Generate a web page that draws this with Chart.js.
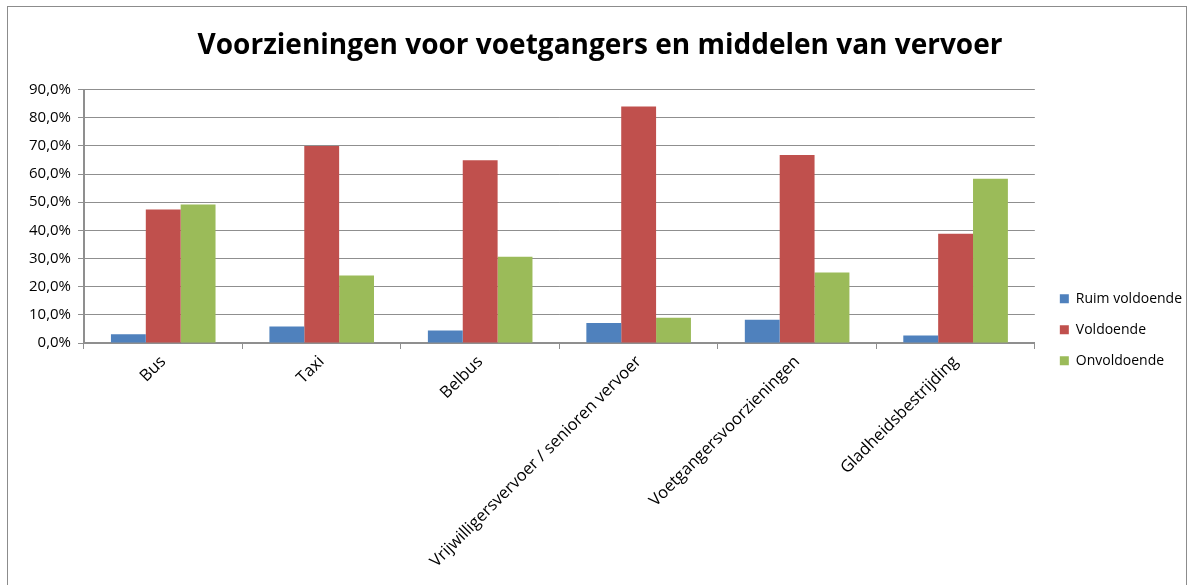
<!DOCTYPE html>
<html>
<head>
<meta charset="utf-8">
<script src="https://cdn.jsdelivr.net/npm/chart.js"></script>
<style>
  body { margin: 0; background: #fff; }
  #wrap {
    position: absolute; left: 7px; top: 6px;
    width: 1178px; height: 579px;
    border: 1px solid #8c8c8c; border-bottom: none;
  }
</style>
</head>
<body>
<div id="wrap"><canvas id="myChart" width="1178" height="579"></canvas></div>
<script>
let categories = ['Bus', 'Taxi', 'Belbus', 'Vrijwilligersvervoer / senioren vervoer', 'Voetgangersvoorzieningen', 'Gladheidsbestrijding'];
let ruimVoldoende = [3.1, 5.9, 4.4, 7.1, 8.3, 2.7];
let voldoende = [47.4, 70.0, 64.9, 84.0, 66.8, 38.8];
let onvoldoende = [49.2, 24.0, 30.6, 9.0, 25.0, 58.3];
let seriesNames = ['Ruim voldoende', 'Voldoende', 'Onvoldoende'];
let colorHex = ['#4F81BD', '#C0504D', '#9BBB59'];

let font = "'Open Sans', 'Liberation Sans', sans-serif";
let gridColor = '#8f8f8f';

let ctx = document.getElementById('myChart').getContext('2d');
let myChart = new Chart(ctx, {
    type: 'bar',
    data: {
        labels: categories,
        datasets: [ruimVoldoende, voldoende, onvoldoende].map((d, i) => ({
            label: seriesNames[i],
            data: d,
            backgroundColor: colorHex[i],
            categoryPercentage: 0.66,
            barPercentage: 1
        }))
    },
    options: {
        responsive: false,
        animation: false,
        layout: { padding: { left: 0, right: -6, top: 0, bottom: 0 } },
        plugins: {
            title: {
                display: true,
                text: 'Voorzieningen voor voetgangers en middelen van vervoer',
                color: '#000',
                font: { family: font, size: 28, weight: 'bold' },
                padding: { top: 22, bottom: 27 }
            },
            legend: {
                position: 'right',
                title: {
                    display: true,
                    text: ' ',
                    font: { size: 12 },
                    padding: 26
                },
                labels: {
                    color: '#000',
                    boxWidth: 9,
                    boxHeight: 9,
                    padding: 17,
                    font: { family: font, size: 14 }
                }
            },
            tooltip: { enabled: false }
        },
        scales: {
            x: {
                grid: {
                    offset: true,
                    drawOnChartArea: false,
                    color: gridColor,
                    tickLength: 6
                },
                border: { color: gridColor, width: 2 },
                ticks: {
                    color: '#000',
                    maxRotation: 45,
                    minRotation: 45,
                    font: { family: font, size: 16.5 }
                },
                afterFit: (scale) => { scale.height = 243; }
            },
            y: {
                min: 0,
                max: 90,
                ticks: {
                    stepSize: 10,
                    color: '#000',
                    padding: 7,
                    font: { family: font, size: 15 },
                    callback: (v) => v.toFixed(1).replace('.', ',') + '%'
                },
                grid: { color: gridColor, tickLength: 6 },
                border: { color: gridColor, width: 2 },
                afterFit: (scale) => { scale.width = 76; }
            },
            // empty spacer between the plot and the legend
            gap: {
                type: 'linear',
                position: 'right',
                min: 0,
                max: 1,
                grid: { display: false },
                ticks: { display: false },
                border: { display: false },
                afterFit: (scale) => { scale.width = 8; }
            }
        }
    }
});
</script>
</body>
</html>
